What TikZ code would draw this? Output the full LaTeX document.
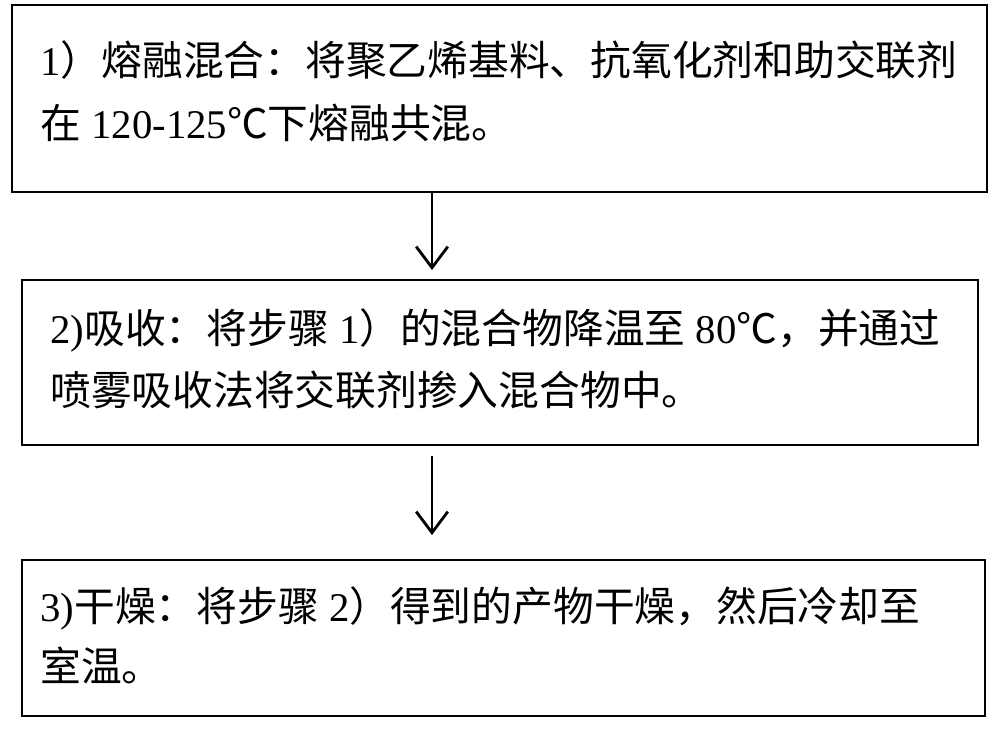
\documentclass[tikz,border=0pt]{standalone}
\usepackage{fontspec}
\usetikzlibrary{arrows.meta}
\setmainfont{Liberation Serif}
\newfontfamily\cjk{Noto Sans CJK SC}
\begin{document}
\begin{tikzpicture}[x=0.02cm,y=-0.02cm,
  box/.style={draw,line width=1.3pt},
  txt/.style={anchor=west,inner sep=0,font=\fontsize{23.2}{27}\selectfont},
  arr/.style={-{Straight Barb[length=12pt,width=18pt]},line width=1.6pt}]
\useasboundingbox (0,0) rectangle (1000,731);
\draw[box] (12,5) rectangle (987,192);
\draw[box] (22,280) rectangle (978,445);
\draw[box] (22,560) rectangle (985,716);
\node[txt] (l1) at (40,60) {1{\cjk）熔融混合：将聚乙烯基料、抗氧化剂和助交联剂}};
\node[txt] (l2) at (40,123) {{\cjk 在} 120-125{\cjk ℃下熔融共混。}};
\node[txt] (l3) at (50,330) {2){\cjk 吸收：将步骤} 1{\cjk ）的混合物降温至} 80{\cjk ℃，并通过}};
\node[txt] (l4) at (50,390) {{\cjk 喷雾吸收法将交联剂掺入混合物中。}};
\node[txt] (l5) at (40,608) {3){\cjk 干燥：将步骤} 2{\cjk ）得到的产物干燥，然后冷却至}};
\node[txt] (l6) at (40,665) {{\cjk 室温。}};
\coordinate (a1) at (432,192); \coordinate (b1) at (432,270);
\coordinate (a2) at (432,456); \coordinate (b2) at (432,535);
\draw[arr] (a1) -- (b1);
\draw[arr] (a2) -- (b2);
\end{tikzpicture}
\end{document}
